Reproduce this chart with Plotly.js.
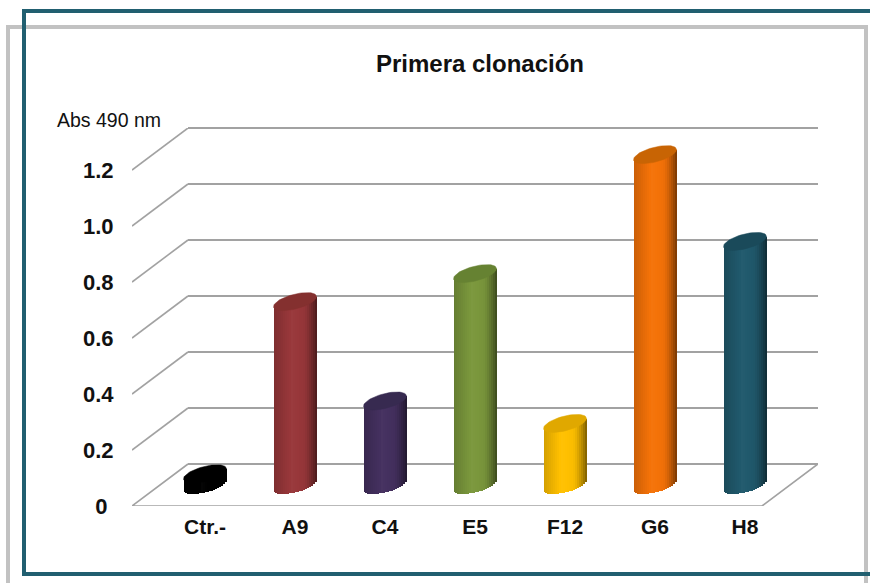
<!DOCTYPE html>
<html><head><meta charset="utf-8">
<script src="https://cdn.plot.ly/plotly-3.0.1.min.js"></script>
<style>html,body{margin:0;padding:0;background:#fff}#c{width:870px;height:583px}</style>
</head><body><div id="c"></div>
<script>
const categories = ["Ctr.-","A9","C4","E5","F12","G6","H8"];
const absValues = [0.04,0.655,0.30,0.755,0.22,1.18,0.87];
const barColors = ["#000000","#98373a","#44305f","#7a973c","#ffc000","#f47208","#20596c"];
const topColors = ["#000000","#84302f","#372a50","#668232","#e0a800","#c86404","#1a4a5a"];
const tickValues = [0,0.2,0.4,0.6,0.8,1.0,1.2];
const tickLabels = ["0\u00A0","0.2","0.4","0.6","0.8","1.0","1.2"];

const W=870,H=583;
const px=p=>p/W, py=p=>1-p/H;
const unitPerPx=1/280;
const depthX=56/90, depthY=42/280;
const barW=43/90, tilt=5, bEll=7.5, N=22;

function shade(hex,f){
  const n=parseInt(hex.slice(1),16);
  const ch=[n>>16,(n>>8)&255,n&255].map(c=>Math.round(f<=1?c*f:c+(255-c)*(f-1)));
  return `rgb(${ch.join(',')})`;
}
function profile(u){ // lighting across the cylinder, u in [-1,1]
  if(u<-0.15) return 0.82+0.2*(u+1)/0.85;
  if(u<0.35) return 1.02-0.04*(u+0.15)/0.5;
  return 0.98-0.5*Math.pow((u-0.35)/0.65,1.5);
}
const xIdx=categories.map((_,i)=>i);
const traces=[];
// back wall carrier
traces.push({type:'scatter',x:[0],y:[0],xaxis:'x',yaxis:'y',mode:'markers',marker:{opacity:0},hoverinfo:'skip',showlegend:false});
// floor + side wall edges
const ex=[],ey=[];
tickValues.slice(1).forEach(v=>{ex.push(0,depthX,null);ey.push(v,v+depthY,null);});
ex.push(depthX,0,7,7+depthX);ey.push(depthY,0,0,depthY);
traces.push({type:'scatter',x:ex,y:ey,xaxis:'x2',yaxis:'y2',mode:'lines',cliponaxis:false,
  line:{color:'#a2a2a2',width:1.6},hoverinfo:'skip',showlegend:false});
// cylinder body: vertical strips, run slightly up under the top ellipse
const overlap=2*unitPerPx;
for(let s=0;s<N;s++){
  const u=-1+(2*s+1)/N;
  const lower=(-tilt*u+bEll*Math.sqrt(1-u*u))*unitPerPx;
  traces.push({type:'bar',x:xIdx,y:absValues.map(v=>v+overlap),base:absValues.map(()=>-lower),
    offset:(u-1/N)*barW/2,width:barW/N*1.02,xaxis:'x3',yaxis:'y3',
    marker:{color:barColors.map(c=>shade(c,profile(u))),line:{width:0}},
    hoverinfo:'skip',showlegend:false});
}
// cylinder tops
absValues.forEach((v,i)=>{
  const xs=[],ys=[];
  for(let d=0;d<=360;d+=6){
    const t=d*Math.PI/180;
    xs.push(i+barW/2*Math.cos(t));
    ys.push(v+(tilt*Math.cos(t)+bEll*Math.sin(t))*unitPerPx);
  }
  traces.push({type:'scatter',x:xs,y:ys,xaxis:'x3',yaxis:'y3',mode:'lines',fill:'toself',
    fillcolor:topColors[i],line:{color:topColors[i],width:0.5},hoverinfo:'skip',showlegend:false});
});
const fontB='"Liberation Sans", Arial, sans-serif';
const box=(x0,y0,x1,y1,color)=>({type:'rect',xref:'paper',yref:'paper',x0:px(x0),x1:px(x1),y0:py(y0),y1:py(y1),
  line:{color:color,width:4},fillcolor:'rgba(0,0,0,0)',layer:'above'});
const layout={
  width:W,height:H,margin:{l:0,r:0,t:0,b:0},showlegend:false,
  paper_bgcolor:'#fff',plot_bgcolor:'rgba(0,0,0,0)',barmode:'overlay',bargap:0,
  title:{text:'<b>Primera clonación</b>',x:px(480),xanchor:'center',y:py(64),yanchor:'middle',
    font:{family:fontB,size:24,color:'#111'}},
  // back wall
  xaxis:{domain:[px(188),px(818)],range:[0,1],visible:false,anchor:'y',fixedrange:true},
  yaxis:{domain:[py(478),py(114)],range:[-0.05,1.25],anchor:'x',tickvals:tickValues,showticklabels:false,ticks:'',
    showgrid:true,gridcolor:'#a2a2a2',gridwidth:1.6,zeroline:false,showline:false,fixedrange:true},
  // front edge, value labels
  xaxis2:{domain:[px(132),px(818)],range:[0,7+depthX],visible:false,anchor:'y2',fixedrange:true},
  yaxis2:{domain:[py(506),py(128)],range:[0,1.35],anchor:'x2',tickmode:'array',tickvals:tickValues,ticktext:tickLabels,
    showgrid:false,zeroline:false,showline:false,ticks:'outside',ticklen:13,tickcolor:'rgba(0,0,0,0)',
    tickfont:{family:fontB,size:22,color:'#111',weight:'bold'},fixedrange:true},
  // cylinders, sitting at mid depth
  xaxis3:{domain:[px(160),px(790)],range:[-0.5,6.5],anchor:'y2',tickmode:'array',tickvals:xIdx,ticktext:categories,
    showgrid:false,zeroline:false,showline:false,ticks:'outside',ticklen:2,tickcolor:'rgba(0,0,0,0)',
    tickfont:{family:fontB,size:21,color:'#111',weight:'bold'},fixedrange:true},
  yaxis3:{domain:[py(513),py(100)],range:[-0.1,1.375],anchor:'x3',visible:false,fixedrange:true},
  annotations:[{text:'Abs 490 nm',xref:'paper',yref:'paper',x:px(109),y:py(120),xanchor:'center',yanchor:'middle',
    showarrow:false,font:{family:fontB,size:19.5,color:'#111'}}],
  shapes:[box(8,27,866,600,'#c2c2c2'),box(24,11,892,574,'#215f70')]
};
Plotly.newPlot('c',traces,layout,{displayModeBar:false,staticPlot:true});
</script></body></html>
